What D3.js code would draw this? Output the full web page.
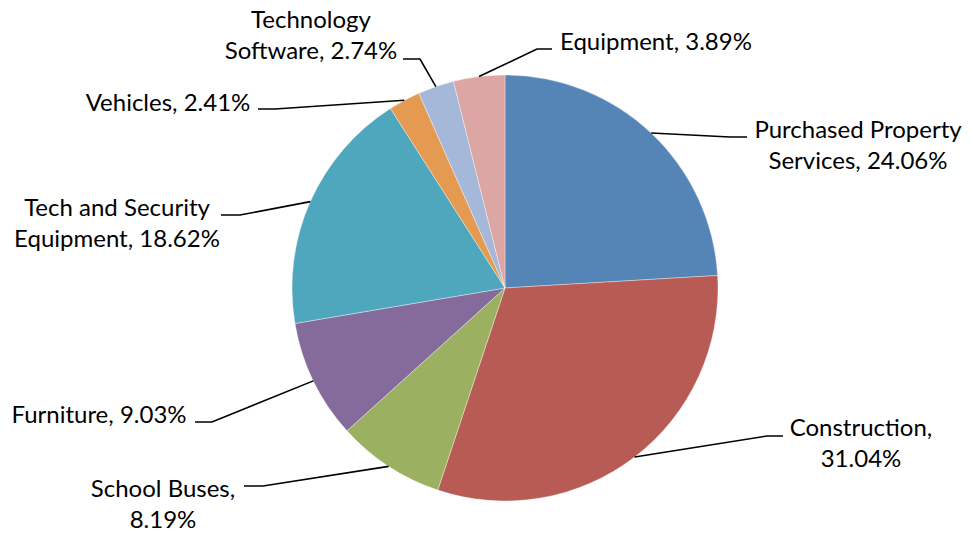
<!DOCTYPE html>
<html>
<head>
<meta charset="utf-8">
<script src="https://cdn.jsdelivr.net/npm/d3@7/dist/d3.min.js"></script>
<style>
  html, body { margin: 0; padding: 0; background: #fff; }
  svg { display: block; }
  text { font-family: Lato, "Open Sans", sans-serif; fill: #000; }
</style>
</head>
<body>
<svg id="chart" width="972" height="535"></svg>
<script>
// ---- data ----
const categories = [
  "Purchased Property Services",
  "Construction",
  "School Buses",
  "Furniture",
  "Tech and Security Equipment",
  "Vehicles",
  "Technology Software",
  "Equipment"
];
const values = [24.06, 31.04, 8.19, 9.03, 18.62, 2.41, 2.74, 3.89];
const labelLines = [
  ["Purchased Property", "Services, 24.06%"],
  ["Construction,", "31.04%"],
  ["School Buses,", "8.19%"],
  ["Furniture, 9.03%"],
  ["Tech and Security", "Equipment, 18.62%"],
  ["Vehicles, 2.41%"],
  ["Technology", "Software, 2.74%"],
  ["Equipment, 3.89%"]
];
const colors = ["#5585B6", "#B85B55", "#9BB060", "#846B9C", "#4FA7BE", "#E49A51", "#A6B8DA", "#DCA6A4"];

// ---- layout (label placement, Excel-style) ----
// end: where leader line meets label; elbow: x of bend; tx: text center; ty: first baseline
const labelLayout = [
  { endX: 747, endY: 137, elbowX: 730, tx: 858, ty: 138 },
  { endX: 783, endY: 436, elbowX: 767, tx: 861, ty: 436 },
  { endX: 244, endY: 486, elbowX: 263, tx: 163, ty: 497 },
  { endX: 195, endY: 422, elbowX: 212, tx: 99,  ty: 423 },
  { endX: 221, endY: 215, elbowX: 240, tx: 117, ty: 216 },
  { endX: 258, endY: 109, elbowX: 275, tx: 168, ty: 111 },
  { endX: 403, endY: 59,  elbowX: 420, tx: 311, ty: 28 },
  { endX: 552, endY: 49,  elbowX: 537, tx: 656, ty: 50 }
];
const cx = 505, cy = 288, radius = 213, fontSize = 24, lineHeight = 31;

const data = categories.map((c, i) => ({ name: c, value: values[i], lines: labelLines[i], layout: labelLayout[i], color: colors[i] }));

const svg = d3.select("#chart");
const g = svg.append("g").attr("transform", `translate(${cx},${cy})`);

const pie = d3.pie().value(d => d.value).sort(null);
const arc = d3.arc().innerRadius(0).outerRadius(radius);
const arcs = pie(data);

g.selectAll("path.slice")
  .data(arcs)
  .enter().append("path")
  .attr("class", "slice")
  .attr("d", arc)
  .attr("fill", d => d.data.color)
  .attr("stroke", "rgba(255,255,255,0.6)")
  .attr("stroke-width", 0.6);

// leader lines
const edgePoint = d => {
  const a = (d.startAngle + d.endAngle) / 2;
  return [cx + radius * Math.sin(a), cy - radius * Math.cos(a)];
};
svg.selectAll("polyline.leader")
  .data(arcs)
  .enter().append("polyline")
  .attr("class", "leader")
  .attr("fill", "none")
  .attr("stroke", "#000")
  .attr("stroke-width", 1.6)
  .attr("points", d => {
    const p = edgePoint(d);
    const L = d.data.layout;
    return [p, [L.elbowX, L.endY], [L.endX, L.endY]].map(q => q.join(",")).join(" ");
  });

// labels
const labels = svg.selectAll("text.label")
  .data(arcs)
  .enter().append("text")
  .attr("class", "label")
  .attr("text-anchor", "middle")
  .attr("font-size", fontSize);
labels.each(function(d) {
  const t = d3.select(this);
  d.data.lines.forEach((ln, i) => {
    t.append("tspan")
      .attr("x", d.data.layout.tx)
      .attr("y", d.data.layout.ty + i * lineHeight)
      .text(ln);
  });
});
</script>
</body>
</html>
